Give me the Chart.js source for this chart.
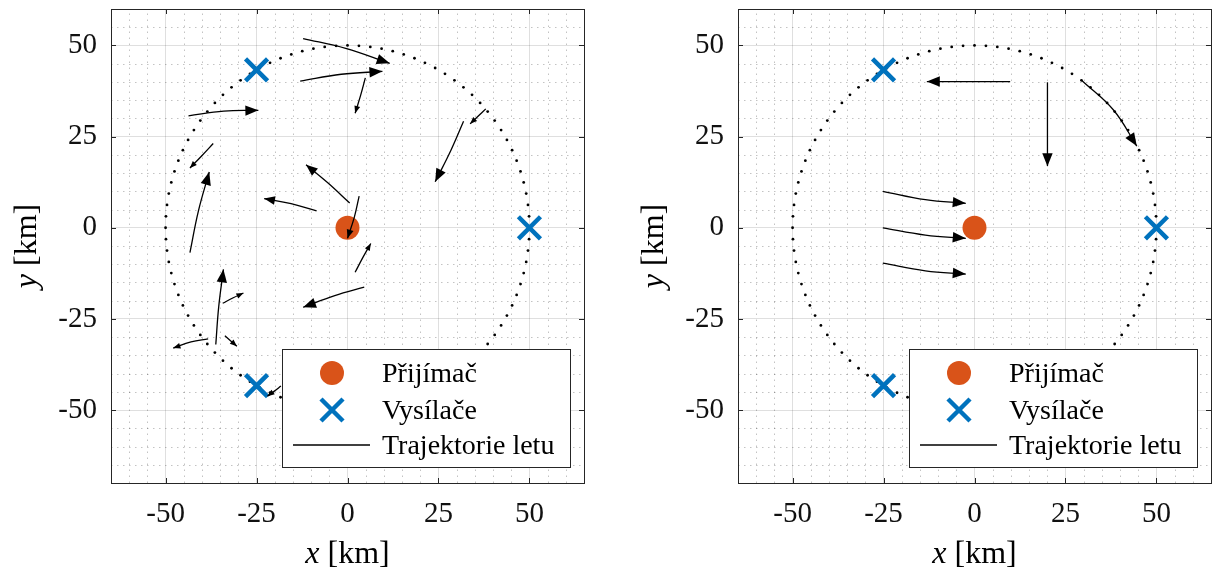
<!DOCTYPE html>
<html><head><meta charset="utf-8">
<script src="https://cdn.jsdelivr.net/npm/chart.js@4"></script>
<style>
html,body{margin:0;padding:0;background:#fff;width:1212px;height:574px;overflow:hidden}
canvas{position:absolute;top:0}
#c1{left:0}
#c2{left:627px}
</style></head><body>
<canvas id="c1" width="600" height="574"></canvas>
<canvas id="c2" width="585" height="574"></canvas>
<script>
// ---- data ----
const X_RANGE = [-65, 65];
const Y_RANGE = [-70, 60];
const TICKS = [-50, -25, 0, 25, 50];
const MINOR_STEP = 5;
const RECEIVER = [[0, 0]];
const TRANSMITTERS = [[-25, 43.3], [50, 0], [-25, -43.3]];
const RING_RADIUS = 50;
const RING_POINTS = 100;
const LEGEND_LABELS = ['Přijímač', 'Vysílače', 'Trajektorie letu'];
const X_LABEL = ['x', ' [km]'];
const Y_LABEL = ['y', ' [km]'];

// each trajectory: start, middle, end (arrow tip)
const TRAJ_LEFT = [
  [[-12.2, 51.9], [-0.5, 49.2], [11.6, 45.1]],
  [[-13.0, 40.2], [-1.7, 42.1], [9.6, 42.9]],
  [[4.9, 41.1], [3.6, 36.3], [2.1, 31.4]],
  [[-43.7, 30.7], [-34.0, 32.0], [-24.5, 32.2]],
  [[-36.9, 23.1], [-40.1, 19.7], [-43.3, 16.4]],
  [[-43.3, -6.8], [-41.0, 4.5], [-38.0, 15.3]],
  [[0.6, 6.8], [-5.5, 12.4], [-11.4, 17.3]],
  [[-8.5, 4.6], [-15.5, 6.6], [-22.9, 8.0]],
  [[3.2, 8.7], [1.9, 3.0], [0.0, -2.9]],
  [[2.1, -12.2], [4.2, -8.2], [6.4, -4.3]],
  [[4.6, -16.3], [-3.5, -18.6], [-12.2, -21.8]],
  [[-36.2, -32.0], [-35.4, -21.7], [-34.1, -11.4]],
  [[-34.3, -20.7], [-31.4, -19.2], [-28.6, -17.9]],
  [[-38.3, -30.5], [-43.0, -31.3], [-47.9, -33.0]],
  [[-33.7, -29.6], [-32.0, -31.1], [-30.4, -32.5]],
  [[-18.3, -43.4], [-20.1, -44.8], [-22.0, -46.2]],
  [[38.0, 32.6], [35.8, 30.5], [33.7, 28.5]],
  [[31.9, 29.2], [28.4, 21.2], [24.1, 12.6]]
];
const TRAJ_RIGHT = [
  [[9.8, 40.1], [-1.6, 40.1], [-13.1, 40.1]],
  [[20.05, 39.9], [20.05, 28.4], [20.05, 16.9]],
  [[29.5, 40.4], [38.2, 32.3], [44.6, 22.4]],
  [[-25.2, 10.0], [-13.5, 7.7], [-2.4, 6.7]],
  [[-25.2, 0.0], [-13.5, -2.0], [-2.4, -2.9]],
  [[-25.2, -9.7], [-13.5, -11.8], [-2.4, -12.7]]
];

// ---- styles ----
const ORANGE = '#D95319', BLUE = '#0072BD', AXC = '#262626';
const FONT = "'Liberation Serif', 'Times New Roman', serif";

const ring = [];
for (let i = 0; i < RING_POINTS; i++) {
  const a = 2 * Math.PI * i / RING_POINTS;
  ring.push({x: RING_RADIUS * Math.cos(a), y: RING_RADIUS * Math.sin(a)});
}
const toXY = arr => arr.map(p => ({x: p[0], y: p[1]}));

function drawX(ctx, x, y, half, lw) {
  ctx.save();
  ctx.strokeStyle = BLUE; ctx.lineWidth = lw;
  ctx.beginPath();
  ctx.moveTo(x - half, y - half); ctx.lineTo(x + half, y + half);
  ctx.moveTo(x - half, y + half); ctx.lineTo(x + half, y - half);
  ctx.stroke();
  ctx.restore();
}

const framePlugin = {
  id: 'frame',
  beforeDatasetsDraw(chart) {
    const {ctx, chartArea: ca, scales: {x, y}} = chart;
    ctx.save();
    ctx.strokeStyle = 'rgba(38,38,38,0.28)';
    ctx.lineWidth = 1;
    ctx.setLineDash([1.5, 4.5]);
    for (let v = X_RANGE[0] + MINOR_STEP; v < X_RANGE[1]; v += MINOR_STEP) {
      if (TICKS.includes(v)) continue;
      const px = Math.round(x.getPixelForValue(v)) + 0.5;
      ctx.beginPath(); ctx.moveTo(px, ca.bottom); ctx.lineTo(px, ca.top); ctx.stroke();
    }
    for (let v = Y_RANGE[0] + MINOR_STEP; v < Y_RANGE[1]; v += MINOR_STEP) {
      if (TICKS.includes(v)) continue;
      const py = Math.round(y.getPixelForValue(v)) + 0.5;
      ctx.beginPath(); ctx.moveTo(ca.left, py); ctx.lineTo(ca.right, py); ctx.stroke();
    }
    ctx.restore();
  },
  afterDatasetsDraw(chart) {
    const {ctx, chartArea: ca, scales: {x, y}} = chart;
    // arrow heads
    chart.data.datasets.forEach((ds, i) => {
      if (!ds.isTraj) return;
      const pts = chart.getDatasetMeta(i).data;
      const n = pts.length;
      const end = pts[n - 1];
      let dx = end.x - pts[n - 2].x, dy = end.y - pts[n - 2].y;
      if (end.cp1x !== undefined && Math.hypot(end.x - end.cp1x, end.y - end.cp1y) > 0.5) {
        dx = end.x - end.cp1x; dy = end.y - end.cp1y;
      }
      let len = 0;
      for (let k = 1; k < n; k++) len += Math.hypot(pts[k].x - pts[k - 1].x, pts[k].y - pts[k - 1].y);
      const L = Math.max(7, Math.min(13, 0.2 * len));
      const W = 0.4 * L;
      const d = Math.hypot(dx, dy); const ux = dx / d, uy = dy / d;
      const bx = end.x - ux * L, by = end.y - uy * L;
      ctx.save();
      ctx.fillStyle = '#000';
      ctx.beginPath();
      ctx.moveTo(end.x, end.y);
      ctx.lineTo(bx - uy * W, by + ux * W);
      ctx.lineTo(bx + uy * W, by - ux * W);
      ctx.closePath(); ctx.fill();
      ctx.restore();
    });
    // box and inward ticks
    ctx.save();
    ctx.strokeStyle = AXC; ctx.lineWidth = 1;
    ctx.strokeRect(Math.round(ca.left) + 0.5, Math.round(ca.top) + 0.5, Math.round(ca.right - ca.left), Math.round(ca.bottom - ca.top));
    ctx.beginPath();
    TICKS.forEach(v => {
      const px = Math.round(x.getPixelForValue(v)) + 0.5;
      ctx.moveTo(px, ca.bottom); ctx.lineTo(px, ca.bottom - 5);
      ctx.moveTo(px, ca.top); ctx.lineTo(px, ca.top + 5);
      const py = Math.round(y.getPixelForValue(v)) + 0.5;
      ctx.moveTo(ca.left, py); ctx.lineTo(ca.left + 5, py);
      ctx.moveTo(ca.right, py); ctx.lineTo(ca.right - 5, py);
    });
    ctx.stroke();
    ctx.restore();
  },
  afterDraw(chart) {
    const {ctx, chartArea: ca} = chart;
    // legend
    const w = 288, h = 118;
    const x0 = Math.round(ca.right - 14 - w), y0 = Math.round(ca.bottom - 16 - h);
    ctx.save();
    ctx.fillStyle = '#fff'; ctx.fillRect(x0, y0, w, h);
    ctx.strokeStyle = AXC; ctx.lineWidth = 1; ctx.strokeRect(x0 + 0.5, y0 + 0.5, w, h);
    const rows = [24, 61, 96];
    ctx.fillStyle = ORANGE;
    ctx.beginPath(); ctx.arc(x0 + 50, y0 + rows[0], 12, 0, 2 * Math.PI); ctx.fill();
    drawX(ctx, x0 + 50, y0 + rows[1], 11, 4.5);
    ctx.strokeStyle = '#000'; ctx.lineWidth = 1.3;
    ctx.beginPath(); ctx.moveTo(x0 + 11, y0 + rows[2]); ctx.lineTo(x0 + 88, y0 + rows[2]); ctx.stroke();
    ctx.fillStyle = '#000';
    ctx.font = '28px ' + FONT;
    ctx.textBaseline = 'alphabetic'; ctx.textAlign = 'left';
    LEGEND_LABELS.forEach((t, k) => ctx.fillText(t, x0 + 100, y0 + rows[k] + 9));
    // axis titles
    const fs = 32;
    const itf = 'italic ' + fs + 'px ' + FONT, upf = fs + 'px ' + FONT;
    ctx.font = itf; const wx1 = ctx.measureText(X_LABEL[0]).width;
    ctx.font = upf; const wx2 = ctx.measureText(X_LABEL[1]).width;
    const cx = (ca.left + ca.right) / 2;
    let sx = cx - (wx1 + wx2) / 2;
    ctx.font = itf; ctx.fillText(X_LABEL[0], sx, 563);
    ctx.font = upf; ctx.fillText(X_LABEL[1], sx + wx1, 563);
    ctx.font = itf; const wy1 = ctx.measureText(Y_LABEL[0]).width;
    ctx.font = upf; const wy2 = ctx.measureText(Y_LABEL[1]).width;
    const cy = (ca.top + ca.bottom) / 2;
    ctx.translate(ca.left - 75, cy);
    ctx.rotate(-Math.PI / 2);
    sx = -(wy1 + wy2) / 2;
    ctx.font = itf; ctx.fillText(Y_LABEL[0], sx, 0);
    ctx.font = upf; ctx.fillText(Y_LABEL[1], sx + wy1, 0);
    ctx.restore();
  }
};

function makeChart(id, trajs, padRight) {
  const datasets = [];
  trajs.forEach((t, i) => datasets.push({
    label: LEGEND_LABELS[2], data: toXY(t), isTraj: true, showLine: true,
    borderColor: '#000', backgroundColor: '#000', borderWidth: 1.3, pointRadius: 0,
    tension: 0.4, fill: false, order: 1
  }));
  datasets.push({label: LEGEND_LABELS[1], data: toXY(TRANSMITTERS), pointStyle: 'crossRot',
    pointRadius: 15.6, borderColor: BLUE, backgroundColor: BLUE, borderWidth: 4.5, order: 2});
  datasets.push({label: LEGEND_LABELS[0], data: toXY(RECEIVER), pointStyle: 'circle',
    pointRadius: 12, backgroundColor: ORANGE, borderColor: ORANGE, borderWidth: 0, order: 3});
  datasets.push({label: 'ring', data: ring, pointStyle: 'circle', pointRadius: 1.4,
    backgroundColor: '#000', borderWidth: 0, order: 4});
  const tickFont = {family: FONT, size: 29};
  return new Chart(document.getElementById(id), {
    type: 'scatter',
    data: {datasets},
    plugins: [framePlugin],
    options: {
      responsive: false, animation: false, devicePixelRatio: 1, events: [],
      layout: {autoPadding: false, padding: {left: 0, right: padRight, top: 9, bottom: 0}},
      plugins: {legend: {display: false}, tooltip: {enabled: false}},
      scales: {
        x: {type: 'linear', min: X_RANGE[0], max: X_RANGE[1],
          afterBuildTicks: s => { s.ticks = TICKS.map(v => ({value: v})); },
          afterFit: s => { s.height = 91; s.paddingLeft = 0; s.paddingRight = 0; s.paddingTop = 0; s.paddingBottom = 0; },
          grid: {color: 'rgba(38,38,38,0.15)', lineWidth: 1, drawTicks: false},
          border: {display: false},
          ticks: {font: tickFont, color: '#111', padding: 14, maxRotation: 0, autoSkip: false, callback: v => String(v)}},
        y: {type: 'linear', min: Y_RANGE[0], max: Y_RANGE[1],
          afterBuildTicks: s => { s.ticks = TICKS.map(v => ({value: v})); },
          afterFit: s => { s.width = 111; s.paddingLeft = 0; s.paddingRight = 0; s.paddingTop = 0; s.paddingBottom = 0; },
          grid: {color: 'rgba(38,38,38,0.15)', lineWidth: 1, drawTicks: false},
          border: {display: false},
          ticks: {font: tickFont, color: '#111', padding: 14, autoSkip: false, callback: v => String(v)}}
      }
    }
  });
}
makeChart('c1', TRAJ_LEFT, 16);
makeChart('c2', TRAJ_RIGHT, 1);
</script>
</body></html>
